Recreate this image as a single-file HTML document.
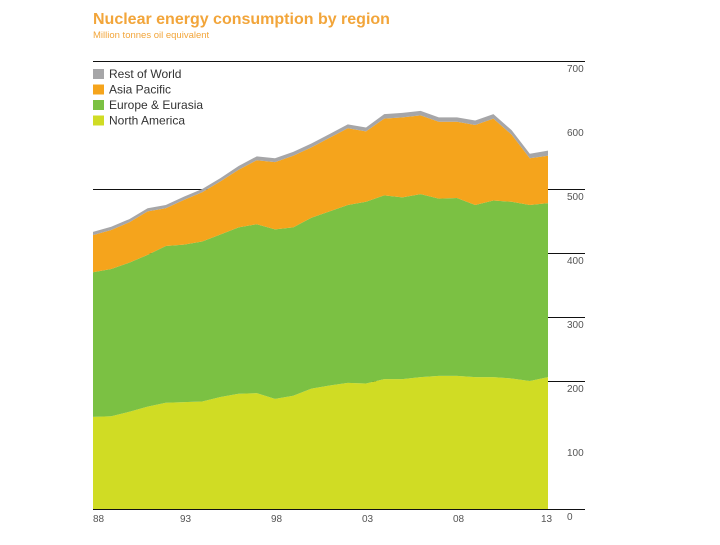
<!DOCTYPE html>
<html><head><meta charset="utf-8"><style>
body{margin:0;background:#fff;width:720px;height:540px;overflow:hidden;font-family:"Liberation Sans",sans-serif}
</style></head><body>
<svg width="720" height="540">
<text x="93" y="24" font-size="16" font-weight="bold" fill="#f2a53a">Nuclear energy consumption by region</text>
<text x="93" y="38" font-size="9.5" fill="#f2a53a">Million tonnes oil equivalent</text>
<g id="grid"></g>
<g id="areas"></g>
<g id="axes"></g>
<g id="legend"></g>
</svg>
<script>
const years=[1988,1989,1990,1991,1992,1993,1994,1995,1996,1997,1998,1999,2000,2001,2002,2003,2004,2005,2006,2007,2008,2009,2010,2011,2012,2013];
const northAmerica=[144,145,152,160,166,167,168,175,180,181,172,177,188,193,197,196,203,203,206,208,208,206,206,204,200,206];
const europeEurasia=[226,230,233,237,245,246,250,254,260,264,265,263,267,272,278,284,287,284,286,277,278,269,276,276,275,272];
const asiaPacific=[58,61,63,68,59,70,77,83,90,100,105,112,110,115,120,110,120,125,123,120,119,125,128,105,73,74];
const restOfWorld=[5,5,5,5,5,5,5,5,6,6,6,6,6,6,6,6,7,7,7,7,7,7,7,7,7,8];
const yTicks=[0,100,200,300,400,500,600,700];
const gridVals=[0,200,300,400,500,700];
const xTickLabels=["88","93","98","03","08","13"];
const xTickYears=[1988,1993,1998,2003,2008,2013];
const ns="http://www.w3.org/2000/svg";
const X=y=>93+(y-1988)*(548-93)/25;
const Y=v=>509-v*0.64;
function mk(t,a,p){const e=document.createElementNS(ns,t);for(const k in a)e.setAttribute(k,a[k]);p.appendChild(e);return e;}
const grid=document.getElementById('grid');
gridVals.forEach(v=>{const yy=Math.round(Y(v))+0.5;const l=mk('line',{x1:93,x2:585,y1:yy,y2:yy,stroke:'#111','stroke-width':1},grid);

});
const series=[["north-america",northAmerica,"#d0dc24"],["europe-eurasia",europeEurasia,"#7bc143"],["asia-pacific",asiaPacific,"#f5a41c"],["rest-of-world",restOfWorld,"#a6a6a8"]];
const areas=document.getElementById('areas');
let base=years.map(()=>0);
series.forEach(([n,d,c])=>{
 const top=base.map((b,i)=>b+d[i]);
 let pts=years.map((y,i)=>X(y)+','+Y(top[i]));
 for(let i=years.length-1;i>=0;i--)pts.push(X(years[i])+','+Y(base[i]));
 const p=mk('polygon',{points:pts.join(' '),fill:c},areas);
 
 
 base=top;
});
const axes=document.getElementById('axes');
yTicks.forEach(v=>{const t=mk('text',{x:567,y:Y(v)+11,'font-size':10,fill:'#555'},axes);t.textContent=String(v);

});
xTickLabels.forEach((s,i)=>{const t=mk('text',{x:X(xTickYears[i])-(i==5?7:(i==0?0:4)),y:522,'font-size':10,fill:'#555'},axes);t.textContent=s;

});
const leg=document.getElementById('legend');
[["Rest of World","#a6a6a8"],["Asia Pacific","#f5a41c"],["Europe & Eurasia","#7bc143"],["North America","#d0dc24"]].forEach(([s,c],i)=>{
 const g=mk('g',{},leg);
 
 
 mk('rect',{x:93,y:69+i*15.5,width:11,height:10,fill:c},g);
 const t=mk('text',{x:109,y:78+i*15.5,'font-size':12,fill:'#333'},g);t.textContent=s;
});
</script>
</body></html>
